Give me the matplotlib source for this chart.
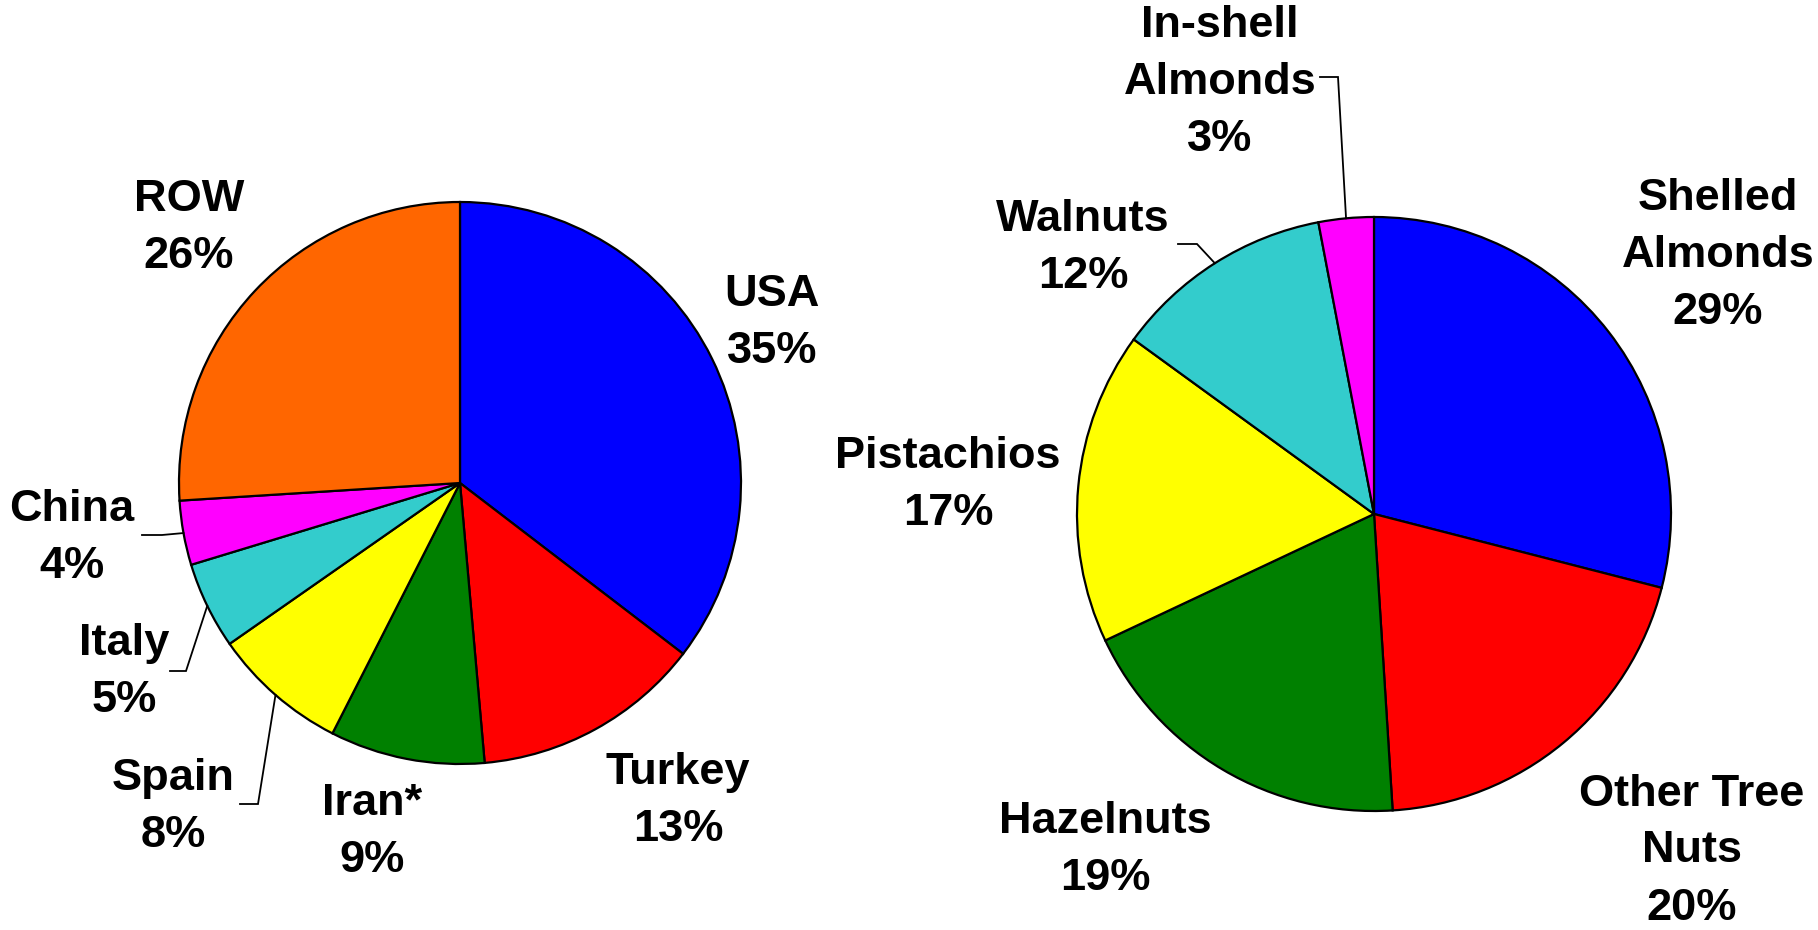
import numpy as np
import matplotlib
matplotlib.use("Agg")
import matplotlib.pyplot as plt

# ---------------- data ----------------
left_labels = ["USA", "Turkey", "Iran*", "Spain", "Italy", "China", "ROW"]
left_values = [35.4, 13.2, 8.9, 7.8, 5.0, 3.7, 26.0]          # slice shares
left_pct = [35, 13, 9, 8, 5, 4, 26]                             # percentages printed on the chart
left_colors = ["#0000FF", "#FF0000", "#008000", "#FFFF00", "#33CCCC", "#FF00FF", "#FF6600"]

right_labels = ["Shelled\nAlmonds", "Other Tree\nNuts", "Hazelnuts", "Pistachios", "Walnuts", "In-shell\nAlmonds"]
right_values = [29, 20, 19, 17, 12, 3]
right_pct = [29, 20, 19, 17, 12, 3]
right_colors = ["#0000FF", "#FF0000", "#008000", "#FFFF00", "#33CCCC", "#FF00FF"]

W, H, DPI = 1818, 930, 100
fig = plt.figure(figsize=(W / DPI, H / DPI), dpi=DPI)
plt.rcParams['font.family'] = ['Liberation Sans', 'DejaVu Sans']

FS = 32.5
LS = 1.5


def make_axes(x0, x1, cx, cy, r):
    ax = fig.add_axes([x0 / W, 0, (x1 - x0) / W, 1])
    return ax, (lambda px, py: ((px - cx) / r, (cy - py) / r)), (x0, x1, cx, cy, r)


def finish(ax, geo):
    x0, x1, cx, cy, r = geo
    ax.set_xlim((x0 - cx) / r, (x1 - cx) / r)
    ax.set_ylim((cy - H) / r, cy / r)
    ax.set_aspect('auto')
    ax.axis('off')


def draw_pie(ax, values, colors):
    wedges, _ = ax.pie(values, colors=colors, startangle=90, counterclock=False,
                       wedgeprops=dict(edgecolor='black', linewidth=1.6))
    return wedges


def mid_point(w):
    a = np.deg2rad((w.theta1 + w.theta2) / 2)
    return np.cos(a) * w.r, np.sin(a) * w.r


def label(ax, conv, text, value, px, py):
    x, y = conv(px, py)
    ax.text(x, y, f"{text}\n{value}%", ha='center', va='center', multialignment='center',
            fontsize=FS, fontweight='bold', linespacing=LS)


def leader(ax, conv, w, elbow, end):
    ax0, ay0 = mid_point(w)
    ex, ey = conv(*elbow)
    tx, ty = conv(*end)
    ax.plot([ax0, ex, tx], [ay0, ey, ty], color='black', lw=1.3, solid_joinstyle='miter')


# ---------------- left pie ----------------
axL, convL, geoL = make_axes(0, 909, 460, 483, 281)
wl = draw_pie(axL, left_values, left_colors)
left_pos = [(772, 323), (678, 801), (372, 832), (173, 807), (124, 672), (72, 538), (189, 228)]
for lab, v, (px, py) in zip(left_labels, left_pct, left_pos):
    label(axL, convL, lab, v, px, py)
leader(axL, convL, wl[5], (162, 535), (142, 535))
leader(axL, convL, wl[4], (186, 671), (170, 671))
leader(axL, convL, wl[3], (258, 804), (240, 804))
finish(axL, geoL)

# ---------------- right pie ----------------
axR, convR, geoR = make_axes(909, 1818, 1374, 514, 297)
wr = draw_pie(axR, right_values, right_colors)
right_pos = [(1718, 255), (1692, 851), (1105, 850), (948, 485), (1083, 248), (1220, 82)]
for lab, v, (px, py) in zip(right_labels, right_pct, right_pos):
    label(axR, convR, lab, v, px, py)
leader(axR, convR, wr[5], (1338, 77), (1320, 77))
leader(axR, convR, wr[4], (1197, 244), (1178, 244))
finish(axR, geoR)

fig.savefig("out.png", dpi=DPI, facecolor='white')
